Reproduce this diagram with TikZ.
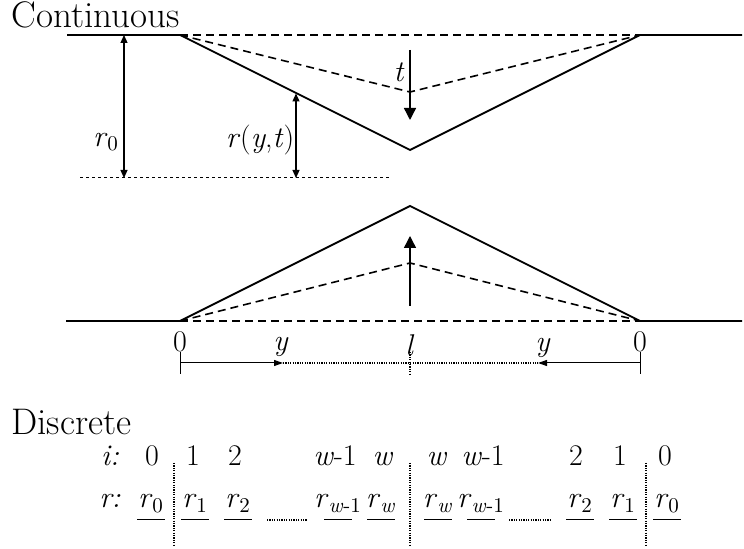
\documentclass[tikz,border=0pt]{standalone}
\usetikzlibrary{arrows.meta}
\tikzset{
	prof/.style={line width=0.9pt},
	dsh/.style={line width=0.8pt, dash pattern=on 4pt off 2.5pt},
	dts/.style={line width=0.5pt, dash pattern=on 1.5pt off 1.5pt},
	fine/.style={line width=0.6pt, dash pattern=on 0.6pt off 0.6pt},
	dim/.style={line width=0.6pt, {Triangle[length=4pt,width=3.5pt]}-{Triangle[length=4pt,width=3.5pt]}},
	big/.style={line width=0.7pt, -{Triangle[length=6pt,width=6pt]}},
	thinarr/.style={line width=0.5pt, -{Triangle[length=4.5pt,width=3pt]}},
	lbl/.style={font=\fontsize{15}{18}\selectfont, inner sep=0pt},
	ttl/.style={font=\fontsize{18.5}{22}\selectfont, inner sep=0pt},
}
\begin{document}
\begin{tikzpicture}[x=0.5pt,y=-0.5pt]
	\useasboundingbox (0,0) rectangle (744,549) ;
	\node (cont)[ttl, anchor=base west] at (11,28) {Continuous} ;
	\node (disc)[ttl, anchor=base west] at (11,435) {Discrete} ;
	% continuous: trough
	\coordinate (tl) at (67,35) ; \coordinate (ta) at (180,35) ;
	\coordinate (tv) at (410,150) ; \coordinate (tb) at (640,35) ;
	\coordinate (tr) at (742,35) ; \coordinate (td) at (410,92) ;
	\draw[prof] (tl) -- (ta) -- (tv) -- (tb) -- (tr) ;
	\draw[dsh] (ta) -- (tb) ;
	\draw[dsh] (ta) -- (td) -- (tb) ;
	\coordinate (t0) at (410,50) ; \coordinate (t1) at (410,120) ;
	\draw[big] (t0) -- (t1) ;
	\node (tlab)[lbl] at (399,72) {\textit{t}} ;
	\coordinate (ra) at (124,35) ; \coordinate (rb) at (124,178) ;
	\draw[dim] (ra) -- (rb) ;
	\node (rlab)[lbl] at (106,142) {\textit{r}\textsubscript{0}} ;
	\coordinate (sa) at (296,93.5) ; \coordinate (sb) at (296,178) ;
	\draw[dim] (sa) -- (sb) ;
	\node (slab)[lbl] at (260,140) {\textit{r}(\textit{y},\textit{t})} ;
	\draw[dts] (80,178) -- (392,178) ;
	% continuous: ridge
	\coordinate (bl) at (66,321) ; \coordinate (ba) at (180,321) ;
	\coordinate (bv) at (410,206) ; \coordinate (bb) at (640,321) ;
	\coordinate (br) at (742,321) ; \coordinate (bd) at (410,263) ;
	\draw[prof] (bl) -- (ba) -- (bv) -- (bb) -- (br) ;
	\draw[dsh] (ba) -- (bb) ;
	\draw[dsh] (ba) -- (bd) -- (bb) ;
	\coordinate (u0) at (410,306) ; \coordinate (u1) at (410,236) ;
	\draw[big] (u0) -- (u1) ;
	\node (z1)[lbl] at (180,342) {0} ;
	\node (ell)[lbl] at (410,345) {\textit{l}} ;
	\node (z2)[lbl] at (640,342) {0} ;
	\node (y1)[lbl] at (281,347) {\textit{y}} ;
	\node (y2)[lbl] at (543,348) {\textit{y}} ;
	\draw[line width=0.5pt] (180,352) -- (180,374) ;
	\draw[line width=0.5pt] (640,352) -- (640,374) ;
	\draw[fine] (410,352) -- (410,374) ;
	\coordinate (d0) at (180,363) ; \coordinate (d1) at (640,363) ;
	\coordinate (dy1) at (283,363) ; \coordinate (dy2) at (538,363) ;
	\draw[thinarr] (d0) -- (dy1) ;
	\draw[fine] (dy1) -- (dy2) ;
	\draw[thinarr] (d1) -- (dy2) ;
	% discrete
	\node (ilab)[lbl, anchor=base] at (110,466) {\textit{i:}} ;
	\node (rlab2)[lbl, anchor=base] at (110,508) {\textit{r:}} ;
	\foreach \n/\xi/\xr/\ti/\tr in {
		a/152/151/0/0, b/193/195/1/1, c/235/238/2/2,
		d/335/338/{\textit{w}-1}/{\textit{w}-1}, e/383/381/\textit{w}/\textit{w},
		f/437/438/\textit{w}/\textit{w}, g/483/481/{\textit{w}-1}/{\textit{w}-1},
		h/576/580/2/2, k/620/623/1/1, m/665/667/0/0}{
		\node (i\n)[lbl, anchor=base] at (\xi,466) {\ti} ;
		\node (r\n)[lbl, anchor=base] at (\xr,508) {\textit{r}\textsubscript{\tr}} ;
		\draw[line width=0.5pt] (\xr-14,520) -- (\xr+14,520) ;
	}
	\draw[fine] (267,520) -- (307,520) ;
	\draw[fine] (509,520) -- (551,520) ;
	\draw[fine] (174,463) -- (174,545) ;
	\draw[fine] (410,463) -- (410,545) ;
	\draw[fine] (646,463) -- (646,545) ;
\end{tikzpicture}
\end{document}
